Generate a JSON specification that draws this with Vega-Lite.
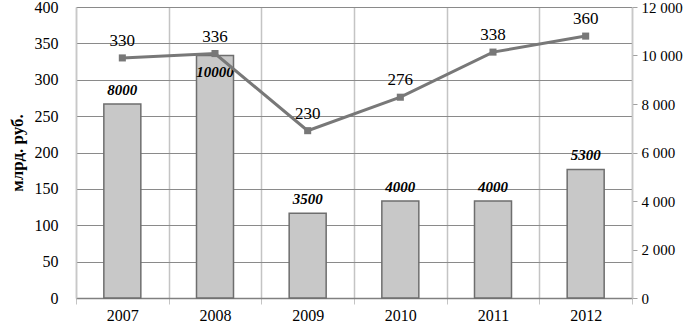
{
  "$schema": "https://vega.github.io/schema/vega-lite/v6.json",
  "autosize": "none",
  "width": 556,
  "height": 291,
  "padding": {"left": 76, "top": 7, "right": 60, "bottom": 26},
  "background": "white",
  "config": {"view": {"stroke": null}, "font": "Liberation Serif"},
  "data": {"values": [
    {"year": "2007", "bar": 8000, "line": 330},
    {"year": "2008", "bar": 10000, "line": 336},
    {"year": "2009", "bar": 3500, "line": 230},
    {"year": "2010", "bar": 4000, "line": 276},
    {"year": "2011", "bar": 4000, "line": 338},
    {"year": "2012", "bar": 5300, "line": 360}
  ]},
  "encoding": {
    "x": {"field": "year", "type": "nominal", "sort": null,
      "scale": {"paddingInner": 0, "paddingOuter": 0},
      "axis": {"title": null, "labelAngle": 0, "labelFont": "Liberation Serif", "labelFontSize": 16, "labelColor": "#000",
        "tickBand": "extent", "grid": true, "gridColor": "#c4c4c4", "gridWidth": 1.5,
        "domainColor": "#808080", "domainWidth": 1.5, "tickColor": "#c4c4c4", "tickSize": 6, "labelPadding": 3}}
  },
  "layer": [
    {
      "mark": {"type": "bar", "size": 37, "fill": "#c8c8c8", "stroke": "#6e6e6e", "strokeWidth": 1.5},
      "encoding": {
        "y": {"field": "bar", "type": "quantitative",
          "scale": {"domain": [0, 12000], "nice": false},
          "axis": {"orient": "right", "title": null, "grid": false, "values": [0,2000,4000,6000,8000,10000,12000],
            "labelOverlap": false, "format": ",d", "labelExpr": "replace(datum.label, ',', ' ')",
            "labelFont": "Liberation Serif", "labelFontSize": 15, "labelColor": "#000",
            "domainColor": "#c8c8c8", "domainWidth": 1.5, "tickColor": "#a0a0a0", "tickSize": 5, "labelPadding": 4}}
      }
    },
    {
      "transform": [{"filter": "datum.bar < 9000"}],
      "mark": {"type": "text", "dy": -14, "fontStyle": "italic", "fontWeight": "bold", "fontSize": 15, "font": "Liberation Serif", "color": "#000"},
      "encoding": {
        "y": {"field": "bar", "type": "quantitative", "scale": {"domain": [0, 12000], "nice": false}, "axis": null},
        "text": {"field": "bar", "type": "nominal"}
      }
    },
    {
      "transform": [{"filter": "datum.bar >= 9000"}],
      "mark": {"type": "text", "dy": 16, "fontStyle": "italic", "fontWeight": "bold", "fontSize": 15, "font": "Liberation Serif", "color": "#000"},
      "encoding": {
        "y": {"field": "bar", "type": "quantitative", "scale": {"domain": [0, 12000], "nice": false}, "axis": null},
        "text": {"field": "bar", "type": "nominal"}
      }
    },
    {
      "mark": {"type": "line", "color": "#787878", "strokeWidth": 3, "point": {"shape": "square", "size": 50, "color": "#787878", "filled": true}},
      "encoding": {
        "y": {"field": "line", "type": "quantitative",
          "scale": {"domain": [0, 400], "nice": false},
          "axis": {"orient": "left", "title": "млрд. руб.", "titleFont": "Liberation Serif", "titleFontSize": 17, "titleFontWeight": "bold", "titleColor": "#000",
            "values": [0,50,100,150,200,250,300,350,400], "grid": true, "gridColor": "#8a8a8a", "gridWidth": 1.2,
            "labelFont": "Liberation Serif", "labelFontSize": 16, "labelColor": "#000",
            "domain": true, "domainColor": "#c8c8c8", "domainWidth": 1.5, "ticks": false, "labelPadding": 18, "titlePadding": 8}}
      }
    },
    {
      "mark": {"type": "text", "dy": -17, "fontWeight": "normal", "fontSize": 17, "font": "Liberation Serif", "color": "#000"},
      "encoding": {
        "y": {"field": "line", "type": "quantitative", "scale": {"domain": [0, 400], "nice": false}, "axis": null},
        "text": {"field": "line", "type": "nominal"}
      }
    }
  ],
  "resolve": {"scale": {"y": "independent"}}
}
